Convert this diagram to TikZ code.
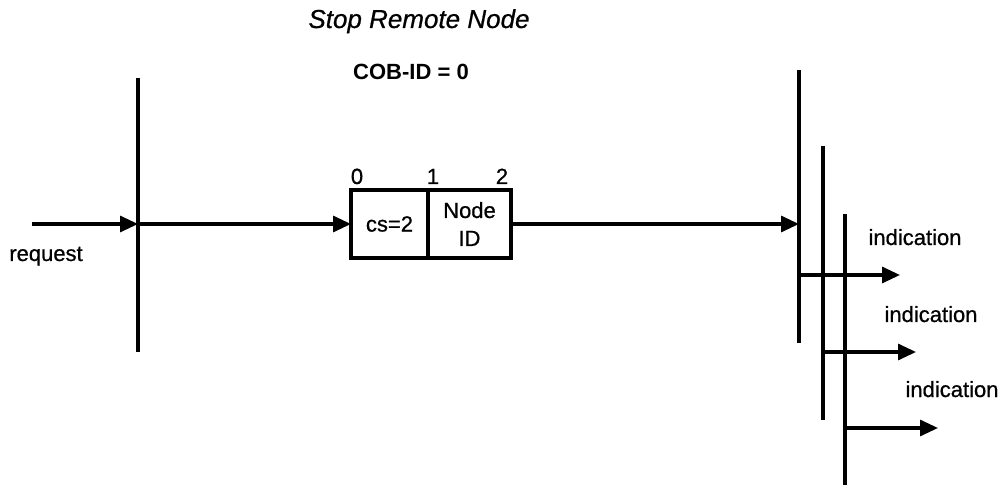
\documentclass[tikz,border=0pt]{standalone}
\usepackage{fontspec}
\setmainfont{Liberation Sans}[UprightFeatures={FakeBold=0.7}, ItalicFeatures={FakeBold=0.7}]
\usetikzlibrary{arrows.meta,calc}
\tikzset{
  sd/.style={inner sep=0pt, font=\fontsize{22}{28}\selectfont},
  sd bar/.style={line width=3.2pt},
  sd arr/.style={line width=3.2pt, -{Triangle[length=18pt, width=16pt]}},
  sd cell/.style={sd, draw, line width=3.2pt, outer sep=0pt, minimum height=68pt, align=center},
  sd lbl/.style={sd, anchor=base},
}

\begin{document}
\begin{tikzpicture}[x=1pt, y=-1pt]
  \useasboundingbox (0,0) rectangle (1004,486);
  % header
  \node[sd lbl, font=\fontsize{26}{30}\selectfont\itshape] (title) at (419,28) {Stop Remote Node};
  \node[sd lbl, font=\fontsize{22}{26}\selectfont\bfseries] (cob) at (411,80) {COB-ID = 0};
  % requesting side
  \coordinate (lt) at (138,78); \coordinate (lb) at (138,352);
  \draw[sd bar] (lt) -- (lb);
  \coordinate (req) at (32,224);
  \draw[sd arr] (req) -- (req -| lt);
  \node[sd lbl] (reqlbl) at (46,261) {request};
  % frame
  \node[sd cell, minimum width=77pt] (cs) at (389.5,224) {cs=2};
  \node[sd cell, minimum width=83pt, anchor=west] (nid) at (cs.east) {Node\\ID};
  \node[sd lbl] (b0) at (357,184) {0};
  \node[sd lbl] (b1) at (433,184) {1};
  \node[sd lbl] (b2) at (502,184) {2};
  \draw[sd arr] (req -| lt) -- (cs.west);
  % receiving side
  \foreach \i/\xx/\ya/\yb/\ay/\tip/\lx/\ly in {1/799/70/343/275/900/915/245, 2/823/146/420/352/916/931/322, 3/845/214/485/428/938/952/397} {
    \coordinate (r\i t) at (\xx,\ya); \coordinate (r\i b) at (\xx,\yb);
    \draw[sd bar] (r\i t) -- (r\i b);
    \coordinate (out\i) at (\tip,\ay);
    \draw[sd arr] (out\i -| r\i t) -- (out\i);
    \node[sd lbl] (ind\i) at (\lx,\ly) {indication};
  }
  \draw[sd arr] (nid.east) -- (nid.east -| r1t);
\end{tikzpicture}
\end{document}
